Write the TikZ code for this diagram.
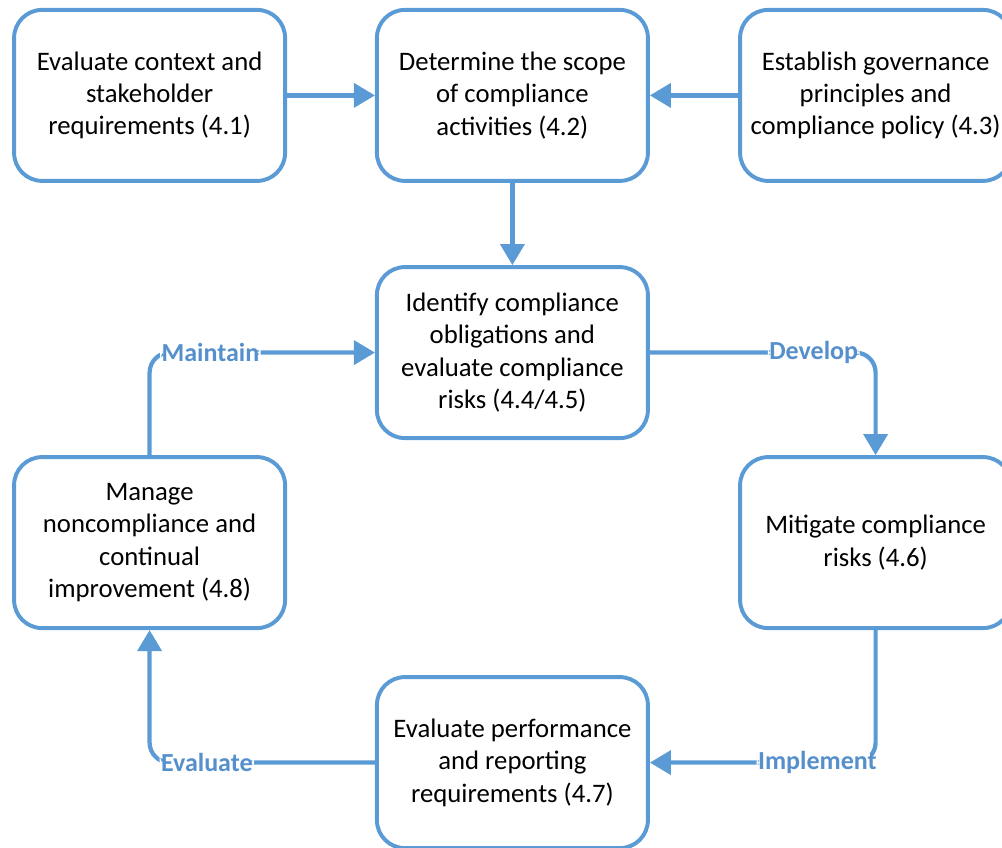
\documentclass[tikz,border=0pt]{standalone}
\usepackage{fontspec}
\setmainfont{Carlito}
\usetikzlibrary{arrows.meta}
\definecolor{boxblue}{HTML}{5B9BD5}
\definecolor{lblblue}{HTML}{5690CC}
\tikzset{
    procbox/.style={draw=boxblue, fill=white, line width=2.8pt, rounded corners=0.7cm,
        minimum width=6.775cm, minimum height=4.275cm, align=center,
        font=\fontsize{19}{23}\selectfont},
    flow/.style={draw=boxblue, line width=3pt, -{Triangle[length=15pt, width=17pt]}},
    flowlbl/.style={fill=white, inner sep=1pt, text=lblblue,
        font=\fontsize{18.5}{22}\selectfont\bfseries},
}
\begin{document}
\begin{tikzpicture}
    \useasboundingbox (0, 0) rectangle (25.05, 21.175);

    \node[procbox] (context) at (3.74, 18.79) {Evaluate context and\\stakeholder\\requirements (4.1)};
    \node[procbox] (scope) at (12.81, 18.79) {Determine the scope\\of compliance\\activities (4.2)};
    \node[procbox] (governance) at (21.89, 18.79) {Establish governance\\principles and\\compliance policy (4.3)};
    \node[procbox] (obligations) at (12.81, 12.36) {Identify compliance\\obligations and\\evaluate compliance\\risks (4.4/4.5)};
    \node[procbox] (mitigate) at (21.89, 7.61) {Mitigate compliance\\risks (4.6)};
    \node[procbox] (manage) at (3.74, 7.61) {Manage\\noncompliance and\\continual\\improvement (4.8)};
    \node[procbox] (performance) at (12.81, 2.11) {Evaluate performance\\and reporting\\requirements (4.7)};

    \draw[flow] (context) -- (scope);
    \draw[flow] (governance) -- (scope);
    \draw[flow] (scope) -- (obligations);

    \draw[flow, rounded corners=0.5cm] (obligations.east) -| node[flowlbl, pos=0.363] {Develop} (mitigate.north);
    \draw[flow, rounded corners=0.5cm] (mitigate.south) |- node[flowlbl, pos=0.629] {Implement} (performance.east);
    \draw[flow, rounded corners=0.5cm] (performance.west) -| node[flowlbl, pos=0.373] {Evaluate} (manage.south);
    \draw[flow, rounded corners=0.5cm] (manage.north) |- node[flowlbl, pos=0.635] {Maintain} (obligations.west);
\end{tikzpicture}
\end{document}
